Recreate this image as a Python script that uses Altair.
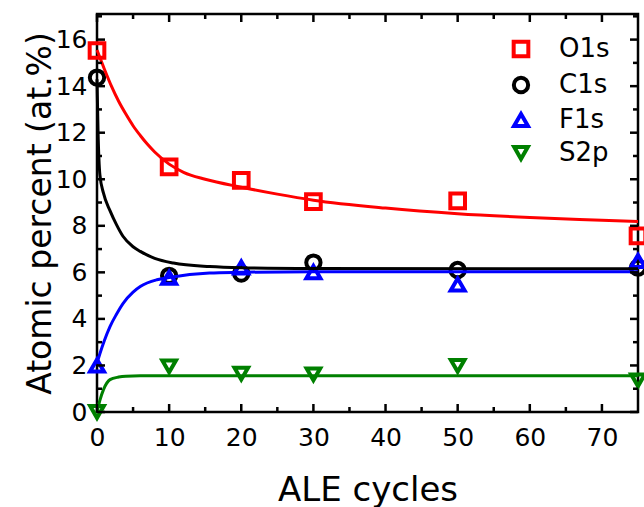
import altair as alt
import pandas as pd

# ---- measured data points ----
cycles = [0, 10, 20, 30, 50, 75]
o1s = [15.53, 10.53, 9.95, 9.04, 9.07, 7.57]
c1s = [14.37, 5.85, 5.95, 6.42, 6.1, 6.2]
f1s = [2.0, 5.77, 6.21, 6.01, 5.48, 6.49]
s2p = [0.0, 1.96, 1.65, 1.62, 1.98, 1.36]

# ---- fitted curves ----
o1s_fit_x = [0, 1, 2, 3, 4, 5, 6, 7, 8, 10, 12, 15, 20, 25, 30, 40, 50, 60, 70, 75]
o1s_fit_y = [15.55, 14.75, 14.0, 13.35, 12.8, 12.3, 11.88, 11.5, 11.17, 10.65, 10.3, 10.0, 9.66, 9.36, 9.1, 8.76, 8.52, 8.36, 8.24, 8.18]
c1s_fit_x = [0, 0.15, 0.4, 0.9, 1.8, 2.7, 3.6, 5, 6, 8, 10.6, 15.6, 20, 30, 75]
c1s_fit_y = [14.3, 12.0, 10.2, 9.4, 8.65, 8.05, 7.55, 7.1, 6.9, 6.6, 6.4, 6.25, 6.2, 6.17, 6.15]
f1s_fit_x = [0, 0.5, 1, 1.8, 2.7, 3.65, 5, 6, 8.3, 10, 15.6, 20, 30, 75]
f1s_fit_y = [2.1, 2.6, 3.05, 3.67, 4.2, 4.68, 5.15, 5.39, 5.68, 5.78, 5.97, 6.0, 6.03, 6.03]
s2p_fit_x = [0, 0.4, 0.9, 1.8, 3, 4, 6, 75]
s2p_fit_y = [0.0, 0.5, 0.96, 1.39, 1.5, 1.54, 1.56, 1.56]

series = ["O1s", "C1s", "F1s", "S2p"]
colors = ["#ff0000", "#000000", "#0000ff", "#008000"]
shapes = ["square", "circle", "triangle-up", "triangle-down"]
sizes = [215, 185, 330, 330]

x_major = [0, 10, 20, 30, 40, 50, 60, 70]
x_minor = [5, 15, 25, 35, 45, 55, 65]
y_major = [0, 2, 4, 6, 8, 10, 12, 14, 16]
y_minor = [1, 3, 5, 7, 9, 11, 13, 15, 17]

W, H = 541, 398
FONT = "DejaVu Sans"

rows = []
for name, vals in zip(series, [o1s, c1s, f1s, s2p]):
    for x, y in zip(cycles, vals):
        rows.append({"x": x, "y": y, "series": name})
pts = pd.DataFrame(rows)

xscale = alt.Scale(domain=[0, 75], nice=False, zero=False)
yscale = alt.Scale(domain=[0, 17.1], nice=False, zero=False)

XAXIS = alt.Axis(values=x_major, grid=False, domain=False, ticks=False,
                 labelFont=FONT, labelFontSize=25, labelColor="black",
                 labelBaseline="alphabetic", labelPadding=33, labelFlush=False,
                 labelOverlap=False,
                 titleFont=FONT, titleFontSize=34, titleFontWeight="normal",
                 titleColor="black", titleBaseline="alphabetic", titleY=88)
YAXIS = alt.Axis(values=y_major, grid=False, domain=False, ticks=False,
                 labelFont=FONT, labelFontSize=25, labelColor="black",
                 labelPadding=10, labelFlush=False, labelOverlap=False,
                 titleFont=FONT, titleFontSize=33, titleFontWeight="normal",
                 titleColor="black", titleBaseline="alphabetic",
                 titleX=-47, titleY=H / 2, titleAngle=270)
XT = "ALE cycles"
YT = "Atomic percent (at.%)"


def X(field):
    return alt.X(field, scale=xscale, title=XT, axis=XAXIS)


def Y(field):
    return alt.Y(field, scale=yscale, title=YT, axis=YAXIS)


LEG = alt.Legend(orient="none", legendX=411, legendY=22, title=None,
                 labelFont=FONT, labelFontSize=26, labelColor="black",
                 labelOffset=25, rowPadding=4, padding=0,
                 symbolStrokeWidth=4)

points = alt.Chart(pts).mark_point(filled=False, strokeWidth=4, opacity=1).encode(
    x=X("x:Q"),
    y=Y("y:Q"),
    color=alt.Color("series:N", scale=alt.Scale(domain=series, range=colors), legend=LEG),
    shape=alt.Shape("series:N", scale=alt.Scale(domain=series, range=shapes), legend=LEG),
    size=alt.Size("series:N", scale=alt.Scale(domain=series, range=sizes), legend=LEG),
    order=alt.Order("order:Q"),
).transform_calculate(order="indexof(['O1s','C1s','F1s','S2p'], datum.series)")

lines = []
for (fx, fy), col in zip([(c1s_fit_x, c1s_fit_y), (o1s_fit_x, o1s_fit_y),
                          (f1s_fit_x, f1s_fit_y), (s2p_fit_x, s2p_fit_y)],
                         ["#000000", "#ff0000", "#0000ff", "#008000"]):
    df = pd.DataFrame({"x": fx, "y": fy})
    lines.append(alt.Chart(df).mark_line(strokeWidth=3, interpolate="monotone", color=col).encode(
        x=X("x:Q"), y=Y("y:Q"),
    ))


def xticks(vals, length):
    df = pd.DataFrame({"x": vals})
    b = alt.Chart(df).mark_rule(color="black", strokeWidth=2.5)
    return [
        b.encode(x=X("x:Q"), y=alt.value(H), y2=alt.value(H - length)),
        b.encode(x=X("x:Q"), y=alt.value(0), y2=alt.value(length)),
    ]


def yticks(vals, length):
    df = pd.DataFrame({"y": vals})
    b = alt.Chart(df).mark_rule(color="black", strokeWidth=2.5)
    return [
        b.encode(y=Y("y:Q"), x=alt.value(0), x2=alt.value(length)),
        b.encode(y=Y("y:Q"), x=alt.value(W), x2=alt.value(W - length)),
    ]


ticks = xticks(x_major, 8) + xticks(x_minor, 5) + yticks(y_major, 8) + yticks([v for v in y_minor if v < 17.1], 5)

chart = alt.layer(points, *lines, *ticks).properties(
    width=W, height=H,
    padding={"left": 97, "top": 14, "right": 6, "bottom": 95},
    autosize=alt.AutoSizeParams(type="none"),
    background="white",
).configure_view(stroke="black", strokeWidth=2.5)

chart.save("out.html", embed_options={"renderer": "svg", "actions": False})
